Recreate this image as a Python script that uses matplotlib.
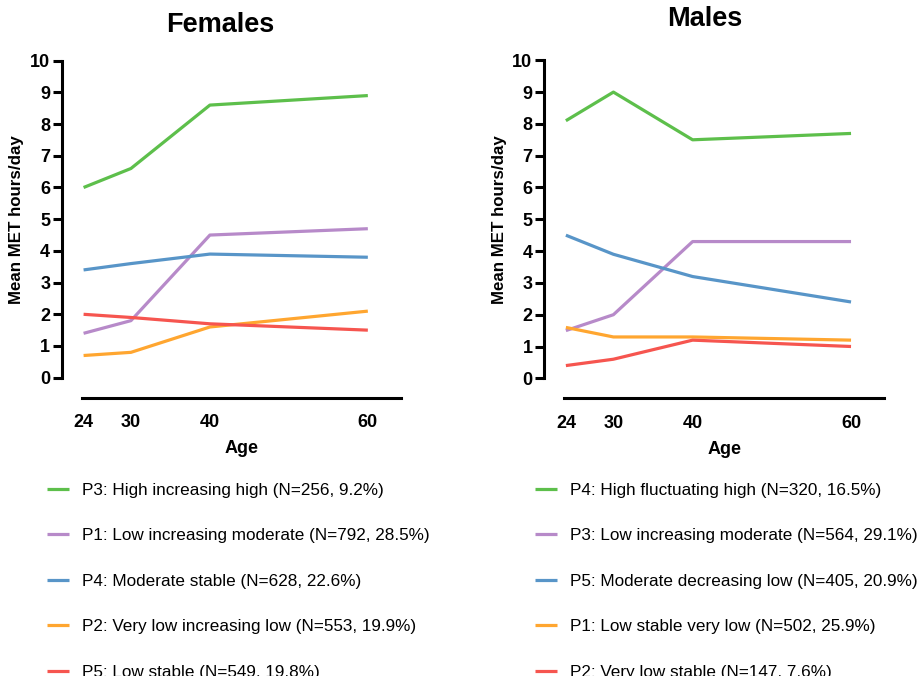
import matplotlib
matplotlib.use("Agg")
import matplotlib.pyplot as plt

plt.rcParams['font.family'] = ['Liberation Sans', 'DejaVu Sans']

# Datos
edades = [24, 30, 40, 60]
etiquetas_edad = ['24', '30', '40', '60']
ticks_y = list(range(0, 11))

colores = ['#5dbf4b', '#b78ac9', '#5895c8', '#ffa630', '#f6554f']

fem_etiquetas = [
    "P3: High increasing high (N=256, 9.2%)",
    "P1: Low increasing moderate (N=792, 28.5%)",
    "P4: Moderate stable (N=628, 22.6%)",
    "P2: Very low increasing low (N=553, 19.9%)",
    "P5: Low stable (N=549, 19.8%)",
]
fem_p3 = [6.0, 6.6, 8.6, 8.9]
fem_p1 = [1.4, 1.8, 4.5, 4.7]
fem_p4 = [3.4, 3.6, 3.9, 3.8]
fem_p2 = [0.7, 0.8, 1.6, 2.1]
fem_p5 = [2.0, 1.9, 1.7, 1.5]

mas_etiquetas = [
    "P4: High fluctuating high (N=320, 16.5%)",
    "P3: Low increasing moderate (N=564, 29.1%)",
    "P5: Moderate decreasing low (N=405, 20.9%)",
    "P1: Low stable very low (N=502, 25.9%)",
    "P2: Very low stable (N=147, 7.6%)",
]
mas_p4 = [8.1, 9.0, 7.5, 7.7]
mas_p3 = [1.5, 2.0, 4.3, 4.3]
mas_p5 = [4.5, 3.9, 3.2, 2.4]
mas_p1 = [1.6, 1.3, 1.3, 1.2]
mas_p2 = [0.4, 0.6, 1.2, 1.0]

W, H = 919, 676
fig = plt.figure(figsize=(W / 100, H / 100), dpi=100)


def panel(izq, abajo, ancho, alto, series, etiquetas, ylab_x):
    ax = fig.add_axes([izq / W, 1 - abajo / H, ancho / W, alto / H])
    lineas = []
    for valores, color, etiqueta in zip(series, colores, etiquetas):
        l, = ax.plot(edades, valores, color=color, lw=2.3, label=etiqueta,
                     solid_capstyle='butt')
        lineas.append(l)
    ax.set_xlim(23.8, 64.2)
    ax.set_ylim(0, 10)
    ax.set_xticks(edades)
    ax.set_xticklabels(etiquetas_edad)
    ax.set_yticks(ticks_y)
    for lado in ['top', 'right']:
        ax.spines[lado].set_visible(False)
    for lado in ['left', 'bottom']:
        ax.spines[lado].set_position(('outward', 14.4))
        ax.spines[lado].set_linewidth(2.2)
    ax.tick_params(axis='y', length=6.5, width=2.2, pad=2, labelsize=13)
    ax.tick_params(axis='x', length=0, pad=12, labelsize=13)
    for t in ax.get_xticklabels() + ax.get_yticklabels():
        t.set_fontweight('bold')
    ax.set_ylabel("Mean MET hours/day", fontsize=12.2, fontweight='bold')
    ax.set_xlabel("Age", fontsize=13, fontweight='bold')
    ax.yaxis.set_label_coords(ylab_x, 0.5)
    ax.xaxis.set_label_coords(0.5, -0.197)
    return ax, lineas


ax1, l1 = panel(82, 377.7, 319, 317,
                [fem_p3, fem_p1, fem_p4, fem_p2, fem_p5], fem_etiquetas, -0.182)
ax2, l2 = panel(564.3, 378.3, 320, 318,
                [mas_p4, mas_p3, mas_p5, mas_p1, mas_p2], mas_etiquetas, -0.179)

fig.text(220 / W, 1 - 25 / H, "Females", ha='center', va='center',
         fontsize=19.5, fontweight='bold')
fig.text(705 / W, 1 - 19.5 / H, "Males", ha='center', va='center',
         fontsize=19.5, fontweight='bold')

for lineas, x0 in [(l1, 47), (l2, 535)]:
    fig.legend(handles=lineas, loc='upper left',
               bbox_to_anchor=(x0 / W, 1 - 483 / H),
               bbox_transform=fig.transFigure, frameon=False,
               fontsize=12.3, handlelength=1.29, handletextpad=0.76,
               labelspacing=1.78, borderpad=0, borderaxespad=0)

fig.savefig("out.png", dpi=100)
